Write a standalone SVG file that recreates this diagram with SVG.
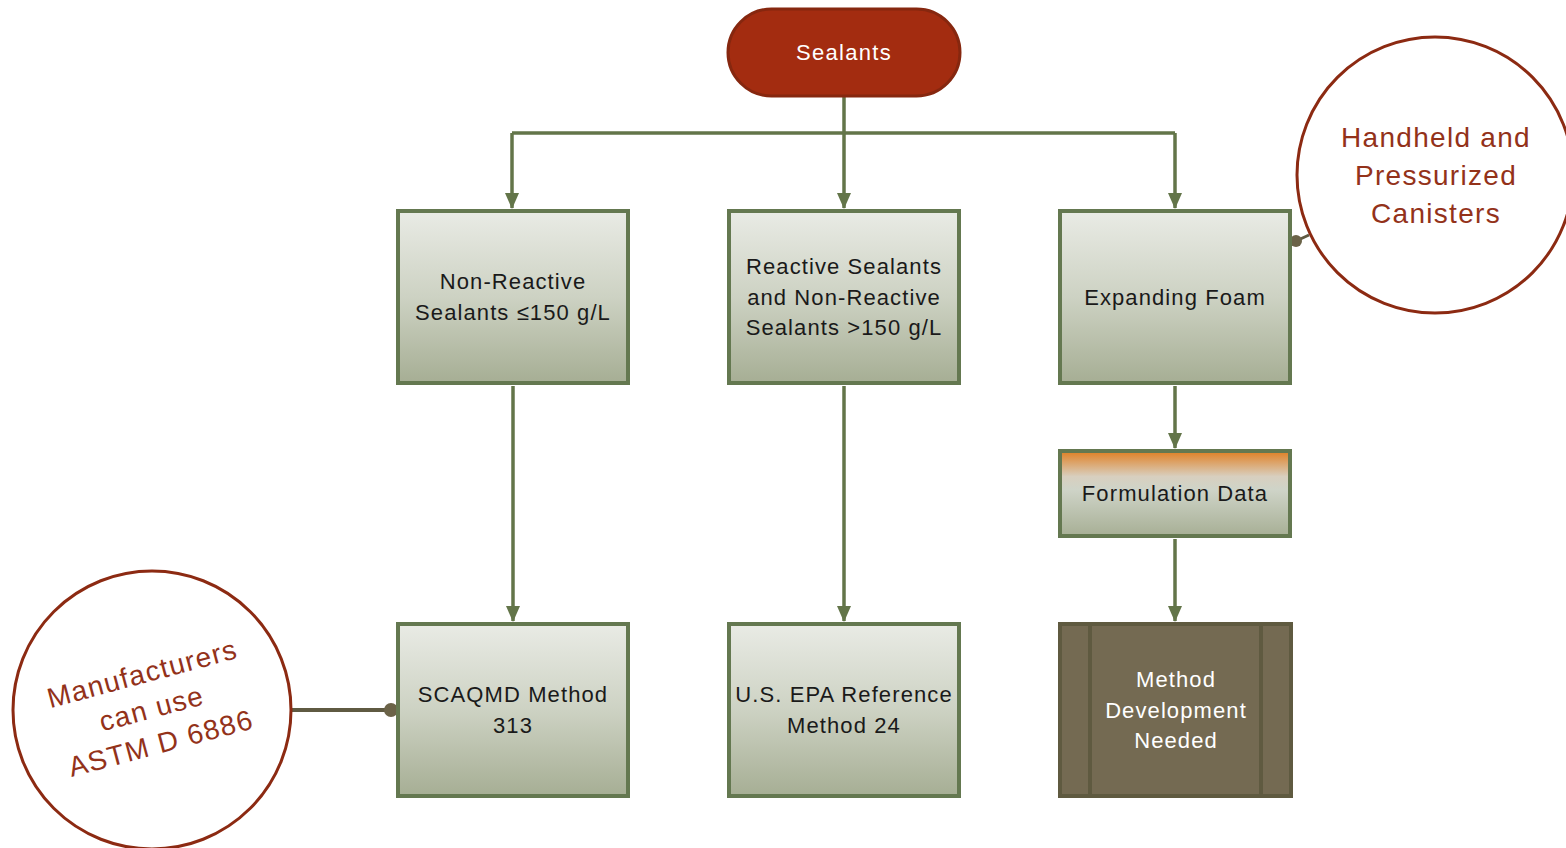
<svg xmlns="http://www.w3.org/2000/svg" width="1566" height="848" viewBox="0 0 1566 848">
<defs>
<linearGradient id="g" x1="0" y1="0" x2="0" y2="1"><stop offset="0" stop-color="#e9ebe5"/><stop offset="0.5" stop-color="#cdd2c3"/><stop offset="1" stop-color="#a6ae94"/></linearGradient>
<linearGradient id="go" x1="0" y1="0" x2="0" y2="1"><stop offset="0" stop-color="#e07f22"/><stop offset="0.3" stop-color="#d8cfbf"/><stop offset="0.45" stop-color="#cfd4c8"/><stop offset="1" stop-color="#a7af95"/></linearGradient>
<marker id="arw" viewBox="0 0 16 14" refX="15" refY="7" markerWidth="16" markerHeight="14" markerUnits="userSpaceOnUse" orient="auto"><path d="M0,0 L16,7 L0,14 z" fill="#637549"/></marker>
</defs>
<style>
.box{fill:url(#g);stroke:#647850;stroke-width:4}
.t{font-family:"Liberation Sans",Arial,sans-serif;font-size:22px;fill:#1a1a1a;text-anchor:middle;letter-spacing:1.1px}
.w{fill:#ffffff}
.c{fill:#ffffff;stroke:#8c2a12;stroke-width:3}
.ct{font-family:"Liberation Sans",Arial,sans-serif;font-size:28px;fill:#93321a;text-anchor:middle;letter-spacing:1.3px}
.ln{fill:none;stroke:#637549;stroke-width:3.5}
</style>
<g id="connectors">
<path class="ln" d="M844,97 V133 M512,133 H1175" />
<path class="ln" d="M512,133 V208" marker-end="url(#arw)"/>
<path class="ln" d="M844,133 V208" marker-end="url(#arw)"/>
<path class="ln" d="M1175,133 V208" marker-end="url(#arw)"/>
<path class="ln" d="M513,386 V621" marker-end="url(#arw)"/>
<path class="ln" d="M844,386 V621" marker-end="url(#arw)"/>
<path class="ln" d="M1175,386 V448" marker-end="url(#arw)"/>
<path class="ln" d="M1175,539 V621" marker-end="url(#arw)"/>
<path d="M1296,241 L1309,235" fill="none" stroke="#5f5a42" stroke-width="3"/>
<circle cx="1296" cy="241" r="6" fill="#6b6348"/>
<path d="M291,710 H391" fill="none" stroke="#5f5a42" stroke-width="4"/>
<circle cx="391" cy="710" r="7" fill="#6b6348"/>
</g>
<g id="sealants">
<rect x="728" y="9" width="232" height="87" rx="43.5" fill="#a32c10" stroke="#86270f" stroke-width="3"/>
<text class="t w" x="844" y="60" style="font-size:22px;letter-spacing:1.3px">Sealants</text>
</g>
<g id="nonreactive">
<rect class="box" x="398" y="211" width="230" height="172"/>
<text class="t" x="513" y="289">Non-Reactive</text>
<text class="t" x="513" y="320">Sealants ≤150 g/L</text>
</g>
<g id="reactive">
<rect class="box" x="729" y="211" width="230" height="172"/>
<text class="t" x="844" y="274">Reactive Sealants</text>
<text class="t" x="844" y="305">and Non-Reactive</text>
<text class="t" x="844" y="335">Sealants &gt;150 g/L</text>
</g>
<g id="foam">
<rect class="box" x="1060" y="211" width="230" height="172"/>
<text class="t" x="1175" y="305">Expanding Foam</text>
</g>
<g id="formulation">
<rect x="1060" y="451" width="230" height="85" fill="url(#go)" stroke="#647850" stroke-width="4"/>
<text class="t" x="1175" y="501">Formulation Data</text>
</g>
<g id="scaqmd">
<rect class="box" x="398" y="624" width="230" height="172"/>
<text class="t" x="513" y="702">SCAQMD Method</text>
<text class="t" x="513" y="733">313</text>
</g>
<g id="epa">
<rect class="box" x="729" y="624" width="230" height="172"/>
<text class="t" x="844" y="702">U.S. EPA Reference</text>
<text class="t" x="844" y="733">Method 24</text>
</g>
<g id="methoddev">
<rect x="1060" y="624" width="231" height="172" fill="#746a52" stroke="#5f5a40" stroke-width="4"/>
<path d="M1090,624 V796 M1261,624 V796" stroke="#5f5a40" stroke-width="4"/>
<text class="t w" x="1176" y="687">Method</text>
<text class="t w" x="1176" y="718">Development</text>
<text class="t w" x="1176" y="748">Needed</text>
</g>
<g id="handheld">
<circle class="c" cx="1435" cy="175" r="138"/>
<text class="ct" x="1436" y="147">Handheld and</text>
<text class="ct" x="1436" y="185">Pressurized</text>
<text class="ct" x="1436" y="223">Canisters</text>
</g>
<g id="manufacturers">
<circle class="c" cx="152" cy="710" r="139"/>
<g transform="rotate(-15 152 710)">
<text class="ct" x="152" y="682">Manufacturers</text>
<text class="ct" x="152" y="718">can use</text>
<text class="ct" x="152" y="754">ASTM D 6886</text>
</g>
</g>
</svg>
